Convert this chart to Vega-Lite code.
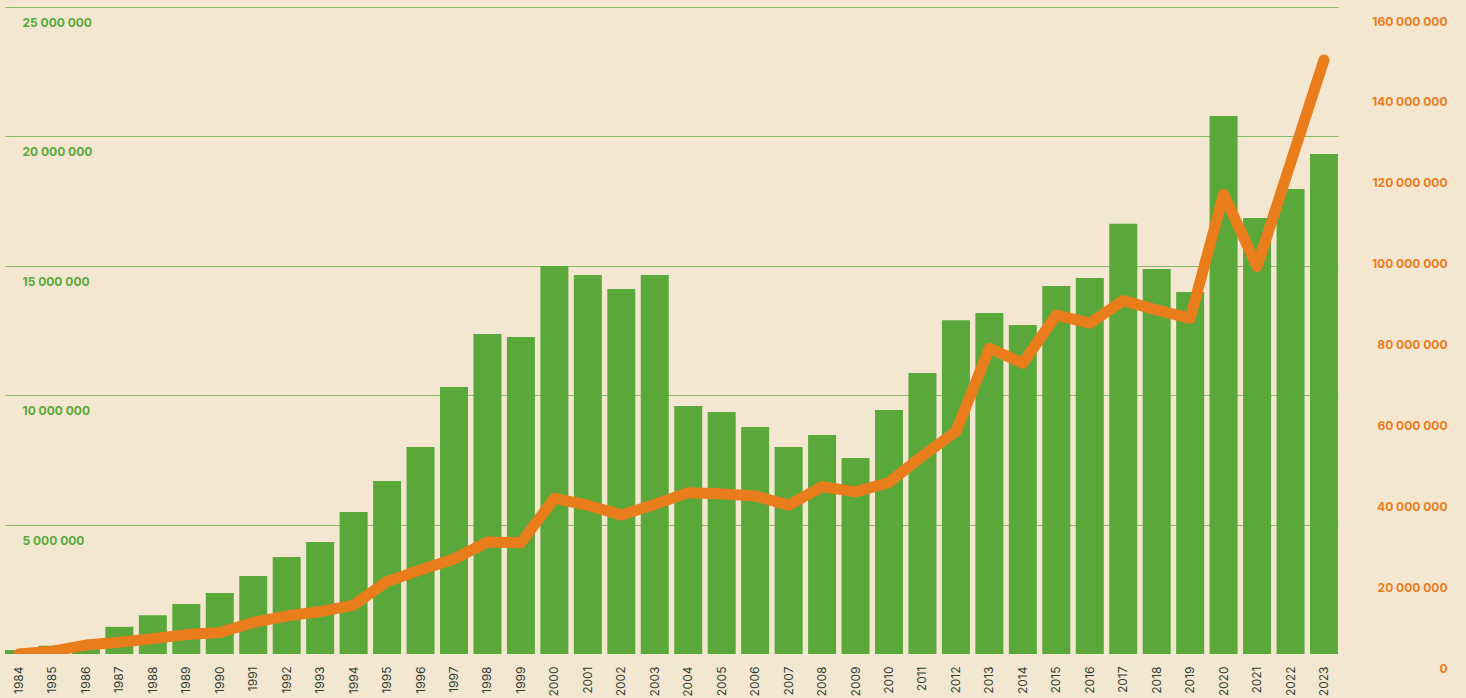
{
  "$schema": "https://vega.github.io/schema/vega-lite/v6.json",
  "width": 1333,
  "height": 647,
  "autosize": {"type": "none"},
  "padding": {"left": 5, "top": 7, "right": 128, "bottom": 44},
  "background": "#f3e7d1",
  "config": {"view": {"stroke": null}, "font": "Inter"},
  "data": {
    "values": [
      {"year": "1984", "count": 150000, "total": 0},
      {"year": "1985", "count": 320000, "total": 700000},
      {"year": "1986", "count": 450000, "total": 2200000},
      {"year": "1987", "count": 1050000, "total": 2900000},
      {"year": "1988", "count": 1500000, "total": 3800000},
      {"year": "1989", "count": 1930000, "total": 4800000},
      {"year": "1990", "count": 2360000, "total": 5300000},
      {"year": "1991", "count": 3010000, "total": 7800000},
      {"year": "1992", "count": 3750000, "total": 9400000},
      {"year": "1993", "count": 4330000, "total": 10500000},
      {"year": "1994", "count": 5490000, "total": 12100000},
      {"year": "1995", "count": 6680000, "total": 17900000},
      {"year": "1996", "count": 8000000, "total": 20800000},
      {"year": "1997", "count": 10320000, "total": 23500000},
      {"year": "1998", "count": 12360000, "total": 27700000},
      {"year": "1999", "count": 12250000, "total": 27500000},
      {"year": "2000", "count": 14990000, "total": 38500000},
      {"year": "2001", "count": 14640000, "total": 36800000},
      {"year": "2002", "count": 14100000, "total": 34400000},
      {"year": "2003", "count": 14640000, "total": 37000000},
      {"year": "2004", "count": 9580000, "total": 39900000},
      {"year": "2005", "count": 9350000, "total": 39600000},
      {"year": "2006", "count": 8770000, "total": 39100000},
      {"year": "2007", "count": 8000000, "total": 36800000},
      {"year": "2008", "count": 8460000, "total": 41400000},
      {"year": "2009", "count": 7570000, "total": 40100000},
      {"year": "2010", "count": 9430000, "total": 42400000},
      {"year": "2011", "count": 10860000, "total": 49000000},
      {"year": "2012", "count": 12900000, "total": 55000000},
      {"year": "2013", "count": 13180000, "total": 75600000},
      {"year": "2014", "count": 12710000, "total": 71900000},
      {"year": "2015", "count": 14220000, "total": 83800000},
      {"year": "2016", "count": 14530000, "total": 81800000},
      {"year": "2017", "count": 16620000, "total": 87400000},
      {"year": "2018", "count": 14880000, "total": 85100000},
      {"year": "2019", "count": 13990000, "total": 83000000},
      {"year": "2020", "count": 20790000, "total": 113700000},
      {"year": "2021", "count": 16850000, "total": 95800000},
      {"year": "2022", "count": 17970000, "total": 121400000},
      {"year": "2023", "count": 19320000, "total": 146900000}
    ]
  },
  "encoding": {
    "x": {
      "field": "year",
      "type": "ordinal",
      "scale": {"paddingInner": 0.163, "paddingOuter": 0},
      "axis": {
        "title": null,
        "labelAngle": 270,
        "labelAlign": "right",
        "labelBaseline": "middle",
        "labelPadding": 12,
        "ticks": false,
        "domain": false,
        "labelFont": "Inter",
        "labelFontSize": 12,
        "labelColor": "#2f3d33"
      }
    }
  },
  "layer": [
    {
      "mark": {"type": "bar", "color": "#5aa83a"},
      "encoding": {
        "y": {
          "field": "count",
          "type": "quantitative",
          "scale": {"domain": [0, 25000000], "nice": false},
          "axis": {
            "orient": "left",
            "title": null,
            "values": [5000000, 10000000, 15000000, 20000000, 25000000],
            "domain": false,
            "ticks": false,
            "grid": true,
            "gridColor": "#86b866",
            "gridWidth": 1,
            "labelAlign": "left",
            "labelPadding": -17,
            "labelBaseline": "middle",
            "labelOffset": 15.5,
            "labelColor": "#5aa83a",
            "labelFontWeight": "bold",
            "labelFontSize": 12,
            "labelExpr": "replace(replace(format(datum.value, ','), ',', ' '), ',', ' ')"
          }
        }
      }
    },
    {
      "mark": {"type": "line", "color": "#e97c1b", "strokeWidth": 11, "strokeCap": "round", "strokeJoin": "round", "clip": true},
      "encoding": {
        "y": {
          "field": "total",
          "type": "quantitative",
          "scale": {"domain": [0, 160000000], "nice": false},
          "axis": {
            "orient": "right",
            "title": null,
            "values": [0, 20000000, 40000000, 60000000, 80000000, 100000000, 120000000, 140000000, 160000000],
            "domain": false,
            "ticks": false,
            "grid": false,
            "labelAlign": "right",
            "labelPadding": 109,
            "labelBaseline": "middle",
            "labelOffset": 14,
            "labelColor": "#e97c1b",
            "labelFontWeight": "bold",
            "labelFontSize": 12,
            "labelExpr": "replace(replace(format(datum.value, ','), ',', ' '), ',', ' ')"
          }
        }
      }
    }
  ],
  "resolve": {"scale": {"y": "independent"}}
}
